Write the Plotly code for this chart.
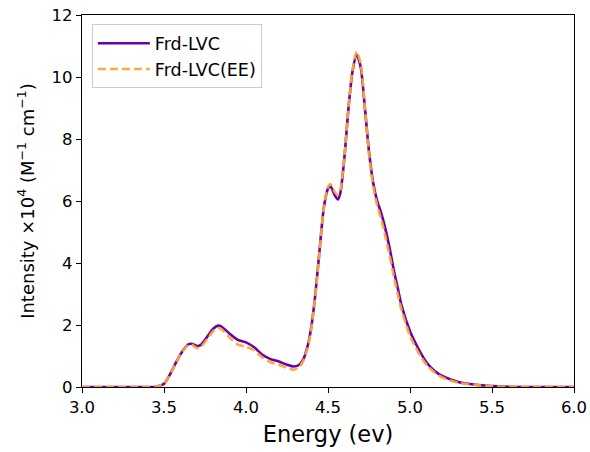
import plotly.graph_objects as go

energy = [3.0, 3.4, 3.45, 3.5, 3.525, 3.55, 3.6, 3.65, 3.675, 3.7, 3.725, 3.75, 3.8, 3.83, 3.85,
          3.9, 3.95, 4.0, 4.05, 4.1, 4.15, 4.2, 4.25, 4.29, 4.325, 4.35, 4.375, 4.4, 4.425,
          4.45, 4.475, 4.5, 4.515, 4.54, 4.56, 4.575, 4.6, 4.625, 4.65, 4.675, 4.7, 4.725,
          4.75, 4.775, 4.8, 4.825, 4.85, 4.875, 4.9, 4.925, 4.95, 5.0, 5.05, 5.1, 5.15, 5.2,
          5.3, 5.4, 5.5, 5.6, 6.0]

frd_lvc = [0, 0, 0.01, 0.1, 0.3, 0.55, 1.05, 1.38, 1.39, 1.32, 1.36, 1.52, 1.88, 1.98, 1.95,
           1.72, 1.52, 1.44, 1.28, 1.04, 0.9, 0.82, 0.72, 0.66, 0.72, 0.9, 1.3, 2.0, 3.1,
           4.5, 5.8, 6.4, 6.48, 6.2, 6.05, 6.25, 7.4, 9.0, 10.2, 10.72, 10.3, 9.0,
           7.6, 6.6, 6.0, 5.6, 5.1, 4.5, 3.8, 3.2, 2.6, 1.8, 1.25, 0.8, 0.52, 0.35,
           0.15, 0.07, 0.03, 0.01, 0]

frd_lvc_ee = [0, 0, 0.01, 0.1, 0.3, 0.55, 1.05, 1.36, 1.35, 1.26, 1.3, 1.45, 1.8, 1.9, 1.87,
              1.6, 1.37, 1.3, 1.18, 0.95, 0.8, 0.72, 0.62, 0.56, 0.65, 0.85, 1.25, 1.95, 3.05,
              4.45, 5.8, 6.45, 6.55, 6.3, 6.2, 6.35, 7.45, 9.05, 10.25, 10.82, 10.4, 9.0,
              7.5, 6.5, 5.85, 5.4, 4.85, 4.25, 3.6, 3.0, 2.45, 1.65, 1.12, 0.72, 0.47, 0.3,
              0.13, 0.06, 0.02, 0.01, 0]

x_ticks = [3.0, 3.5, 4.0, 4.5, 5.0, 5.5, 6.0]
y_ticks = [0, 2, 4, 6, 8, 10, 12]

fig = go.Figure()
fig.add_trace(go.Scatter(x=energy, y=frd_lvc, mode="lines", name="Frd-LVC",
                         line=dict(color="#6a00a8", width=2.6, shape="spline", smoothing=0.7)))
fig.add_trace(go.Scatter(x=energy, y=frd_lvc_ee, mode="lines", name="Frd-LVC(EE)",
                         line=dict(color="rgba(252,166,54,0.95)", width=2.6, dash="8px,4px",
                                   shape="spline", smoothing=0.7)))

axis_common = dict(showline=True, linecolor="black", linewidth=1.2, mirror=True,
                   ticks="outside", ticklen=5, tickwidth=1.2, tickcolor="black",
                   showgrid=False, zeroline=False, automargin=False,
                   ticklabeloverflow="allow",
                   tickfont=dict(family="DejaVu Sans", size=16.5, color="black"))

fig.update_xaxes(range=[3.0, 6.0], tickvals=x_ticks, ticktext=[f"{v:.1f}" for v in x_ticks],
                 title=dict(text="Energy (ev)", font=dict(family="DejaVu Sans", size=22.5, color="black"),
                            standoff=10),
                 **axis_common)
fig.update_yaxes(range=[0, 12], tickvals=y_ticks,
                 title=dict(text="Intensity ×10<sup>4</sup> (M<sup>−1</sup> cm<sup>−1</sup>)",
                            font=dict(family="DejaVu Sans", size=18, color="black"), standoff=12),
                 **axis_common)

fig.update_layout(
    width=590, height=452,
    margin=dict(l=82, r=16, t=15, b=65),
    plot_bgcolor="white", paper_bgcolor="white",
    font=dict(family="DejaVu Sans", color="black"),
    legend=dict(x=0.02, y=0.975, xanchor="left", yanchor="top", itemwidth=52,
                bgcolor="white", bordercolor="#cccccc", borderwidth=1,
                font=dict(family="DejaVu Sans", size=17.5, color="black")),
    showlegend=True,
)

# remove the browser's default 8px body margin so the figure fills the 590x452 window
fig.write_html("out.html", config={"displayModeBar": False},
               post_script="document.body.style.margin='0';")
